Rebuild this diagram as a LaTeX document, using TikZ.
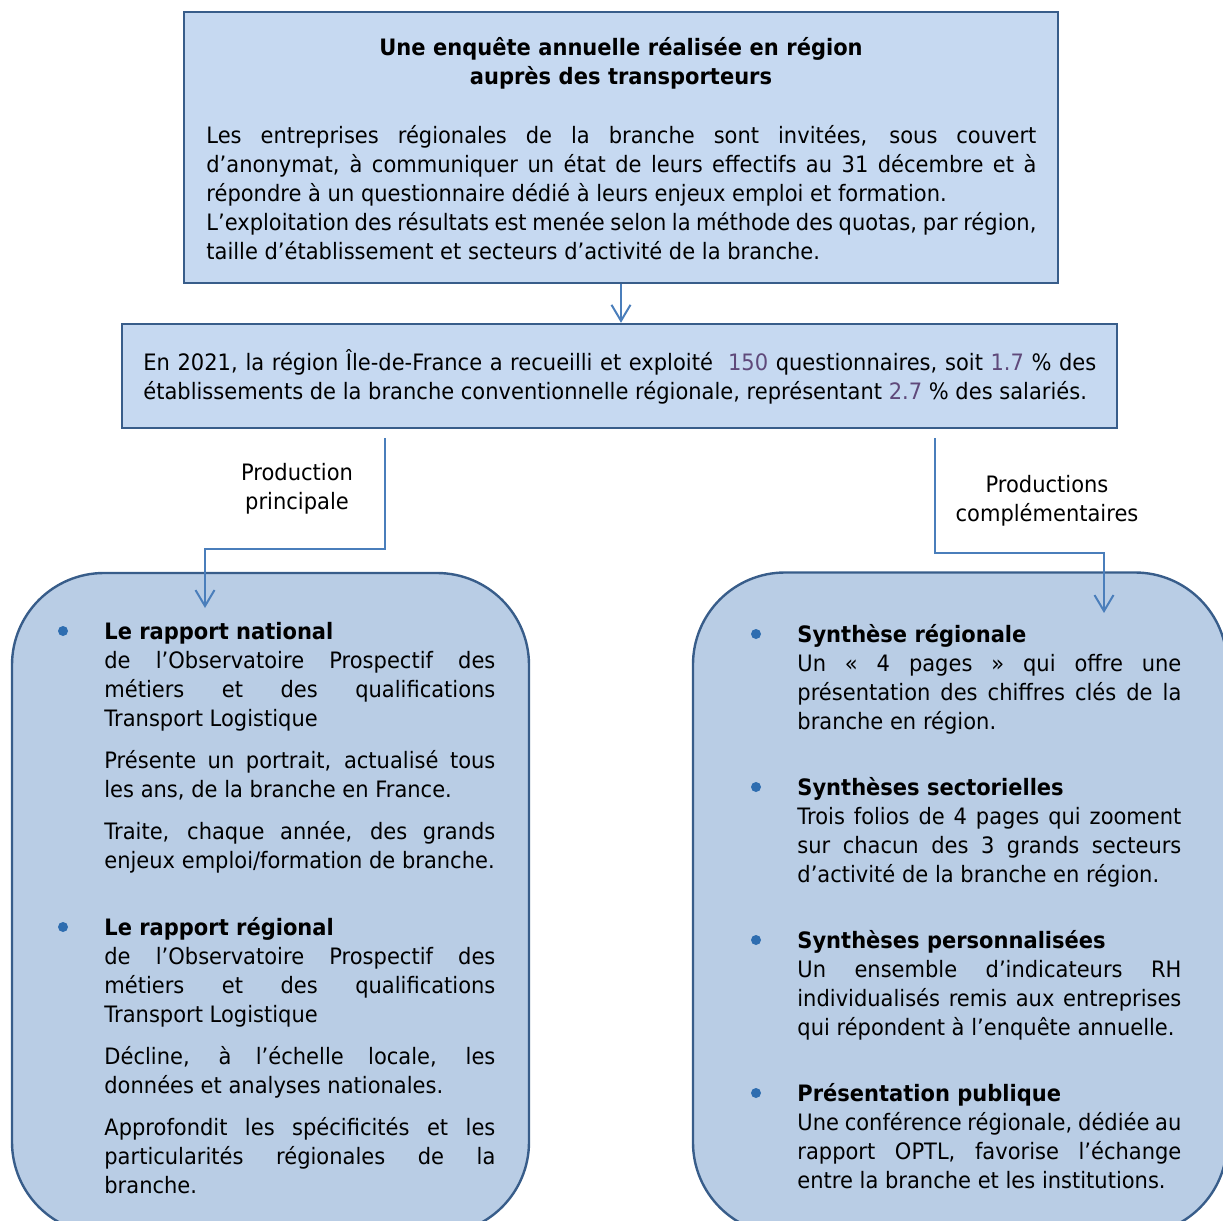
\documentclass[tikz,border=0pt]{standalone}
\usepackage{fontspec}
\setmainfont{DejaVu Sans}[FakeStretch=0.93]
\usepackage{tikz}
\usetikzlibrary{positioning,arrows.meta}
\definecolor{boxfill}{HTML}{C6D9F1}
\definecolor{panelfill}{HTML}{B9CDE5}
\definecolor{boxline}{HTML}{385D8A}
\definecolor{linkline}{HTML}{4A7EBB}
\definecolor{dotcol}{HTML}{2E6DB0}
\definecolor{numcol}{HTML}{5F497A}
\newcommand{\bodyfont}{\fontsize{11.3}{14.5}\selectfont}
\hbadness=10000
\tolerance=10000
\hyphenpenalty=10000

\begin{document}
\begin{tikzpicture}[x=0.5pt,y=-0.5pt,
   every node/.style={font=\bodyfont},
   box/.style={draw=boxline,line width=1.2pt,fill=boxfill,inner sep=0pt},
   panel/.style={draw=boxline,line width=1.2pt,fill=panelfill,rounded corners=46pt,inner sep=0pt},
   txt/.style={anchor=base west,inner sep=0pt,align=justify},
   lbl/.style={anchor=base,inner sep=0pt,align=center},
   dot/.style={circle,fill=dotcol,inner sep=0pt,minimum size=5pt},
   link/.style={draw=linkline,line width=1pt,-{Straight Barb[length=8pt,width=9.5pt]}}]

   \useasboundingbox (0,0) rectangle (1223,1221);

   \node[box,minimum width=437pt,minimum height=135.5pt] (survey) at (621,147.5) {};
   \node[lbl,text width=437pt,font=\bodyfont\bfseries] (surveytitle) at (621,55)
      {Une enquête annuelle réalisée en région\\auprès des transporteurs};
   \node[txt,text width=415pt] (surveytext) at (206,143)
      {Les entreprises régionales de la branche sont invitées, sous couvert\linebreak
       d’anonymat, à communiquer un état de leurs effectifs au 31 décembre et à\linebreak
       répondre à un questionnaire dédié à leurs enjeux emploi et formation.\par
       L’exploitation des résultats est menée selon la méthode des quotas, par région,\linebreak
       taille d’établissement et secteurs d’activité de la branche.};

   \node[box,minimum width=497.5pt,minimum height=52pt] (result) at (619.5,376) {};
   \node[txt,text width=476.5pt] (resulttext) at (143,370)
      {En 2021, la région Île-de-France a recueilli et exploité~ \textcolor{numcol}{150} questionnaires, soit \textcolor{numcol}{1.7} \% des\linebreak
       établissements de la branche conventionnelle régionale, représentant \textcolor{numcol}{2.7} \% des salariés.};

   \node[panel,minimum width=258.5pt,minimum height=330.5pt] (national) at (270.5,903.5) {};
   \node[panel,minimum width=267pt,minimum height=331pt] (extras) at (960,903.5) {};

   \node[lbl,text width=120pt] (mainlbl) at (297,480) {Production\\principale};
   \node[lbl,text width=120pt] (extralbl) at (1047,492) {Productions\\complémentaires};

   \coordinate (mainstart) at (385,438);
   \coordinate (maintip) at (205,608);
   \coordinate (extrastart) at (935,438);
   \coordinate (extratip) at (1104,613);

   \draw[link] (survey.south) -- (survey.south |- result.north);
   \draw[link] (mainstart) -- ++(0,111) -| (maintip);
   \draw[link] (extrastart) -- ++(0,115) -| (extratip);

   \node[dot] (dot1) at (63,631) {};
   \node[dot] (dot2) at (63,927) {};
   \node[dot] (dot3) at (756,634) {};
   \node[dot] (dot4) at (756,787) {};
   \node[dot] (dot5) at (756,940) {};
   \node[dot] (dot6) at (756,1093) {};

   \node[txt,text width=195.5pt] (natreport) at (104,639)
      {\setlength{\parskip}{6.5pt}\textbf{Le rapport national}\\
       de l’Observatoire Prospectif des\linebreak
       métiers et des qualifications\linebreak
       Transport Logistique\par
       Présente un portrait, actualisé tous\linebreak
       les ans, de la branche en France.\par
       Traite, chaque année, des grands\linebreak
       enjeux emploi/formation de branche.};
   \node[txt,text width=195.5pt] (regreport) at (104,935)
      {\setlength{\parskip}{6.5pt}\textbf{Le rapport régional}\\
       de l’Observatoire Prospectif des\linebreak
       métiers et des qualifications\linebreak
       Transport Logistique\par
       Décline, à l’échelle locale, les\linebreak
       données et analyses nationales.\par
       Approfondit les spécificités et les\linebreak
       particularités régionales de la\linebreak
       branche.};

   \node[txt,text width=192pt] (regsynth) at (797,642)
      {\textbf{Synthèse régionale}\\
       Un «~4~pages~» qui offre une\linebreak
       présentation des chiffres clés de la\linebreak
       branche en région.};
   \node[txt,text width=192pt] (secsynth) at (797,795)
      {\textbf{Synthèses sectorielles}\\
       Trois folios de 4 pages qui zooment\linebreak
       sur chacun des 3 grands secteurs\linebreak
       d’activité de la branche en région.};
   \node[txt,text width=192pt] (persynth) at (797,948)
      {\textbf{Synthèses personnalisées}\\
       Un ensemble d’indicateurs RH\linebreak
       individualisés remis aux entreprises\linebreak
       qui répondent à l’enquête annuelle.};
   \node[txt,text width=192pt] (pubpres) at (797,1101)
      {\textbf{Présentation publique}\\
       Une conférence régionale, dédiée au\linebreak
       rapport OPTL, favorise l’échange\linebreak
       entre la branche et les institutions.};
\end{tikzpicture}
\end{document}
